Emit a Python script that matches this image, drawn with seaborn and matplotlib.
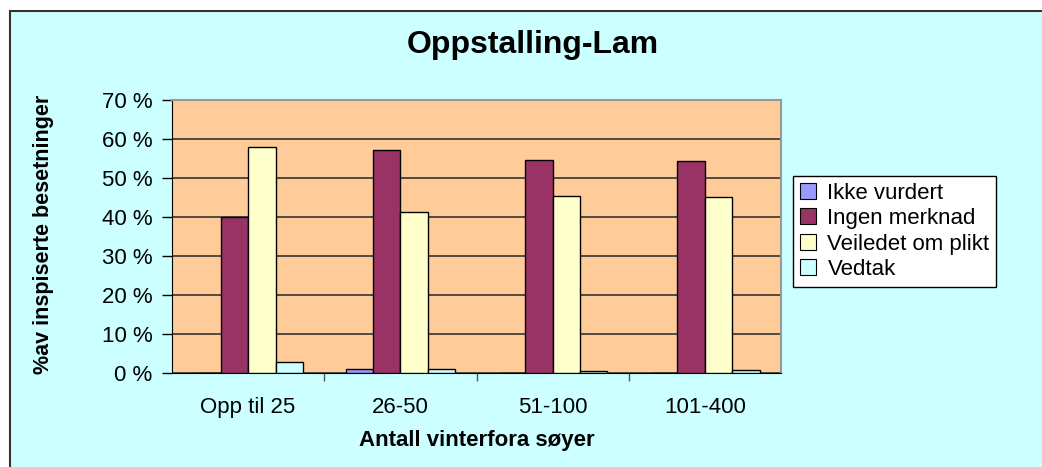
import matplotlib
matplotlib.use("Agg")
import matplotlib.pyplot as plt
import pandas as pd
import seaborn as sb
from matplotlib.patches import Rectangle

# data
groups = ["Opp til 25", "26-50", "51-100", "101-400"]
series = ["Ikke vurdert", "Ingen merknad", "Veiledet om plikt", "Vedtak"]
ikke_vurdert = [0.0, 1.1, 0.0, 0.0]
ingen_merknad = [39.8, 57.0, 54.4, 54.2]
veiledet = [57.8, 41.2, 45.2, 45.0]
vedtak = [2.7, 0.9, 0.4, 0.85]
colors = ["#9999FF", "#993366", "#FFFFCC", "#CCFFFF"]

rows = []
for s, vals in zip(series, [ikke_vurdert, ingen_merknad, veiledet, vedtak]):
    for g, v in zip(groups, vals):
        rows.append({"group": g, "serie": s, "pct": v})
df = pd.DataFrame(rows)

plt.rcParams["font.family"] = ["Liberation Sans", "DejaVu Sans"]

W, H = 1042, 467
fig = plt.figure(figsize=(W / 100, H / 100), dpi=100)
fig.patch.set_facecolor("white")
# cyan chart area, dark border only on top/left (rest is cut off)
bg = Rectangle((10 / W, -0.1), 1.2, 1.1 - 11 / H, transform=fig.transFigure,
               facecolor="#CCFFFF", edgecolor="#333333", linewidth=1.5, zorder=-10)
fig.patches.append(bg)

L, R, T, B = 172, 781, 99.5, 373
ax = fig.add_axes([L / W, 1 - B / H, (R - L) / W, (B - T) / H])
ax.set_facecolor("#FFCC99")

sb.barplot(data=df, x="group", y="pct", hue="serie", order=groups, hue_order=series,
           palette=colors, width=0.72, edgecolor="black", linewidth=1.0,
           saturation=1, ax=ax, zorder=3)

ax.set_ylim(0, 70)
ax.set_xlim(-0.5, 3.5)
ax.set_yticks(range(0, 71, 10))
ax.set_yticklabels([f"{v} %" for v in range(0, 71, 10)], fontsize=16)
ax.yaxis.grid(True, color="#333333", linewidth=1.2, zorder=0)
ax.set_axisbelow(True)
ax.tick_params(axis="y", length=7, width=1, direction="out", pad=7)
ax.tick_params(axis="x", which="major", length=0, labelsize=16, pad=17)
ax.set_xticks([0.5, 1.5, 2.5], minor=True)
ax.tick_params(axis="x", which="minor", length=6, width=1, color="#555555")
for side in ["top", "right"]:
    ax.spines[side].set_color("#999999")
    ax.spines[side].set_linewidth(1.5)
ax.spines["left"].set_color("black")
ax.spines["bottom"].set_color("black")

ax.set_xlabel("Antall vinterfora søyer", fontsize=16, fontweight="bold")
ax.xaxis.set_label_coords((477 - L) / (R - L), (B - 430) / (B - T))
ax.xaxis.label.set_va("top")
ax.set_ylabel("%av inspiserte besetninger", fontsize=15.5, fontweight="bold")
ax.yaxis.set_label_coords((54 - L) / (R - L), (B - 234) / (B - T))

fig.text(533 / W, 1 - 53 / H, "Oppstalling-Lam", ha="center", va="baseline",
         fontsize=23, fontweight="bold")

leg = ax.legend(loc="upper left", bbox_to_anchor=(793 / W, 1 - 176 / H),
                bbox_transform=fig.transFigure, fontsize=16, frameon=True, fancybox=False,
                edgecolor="black", framealpha=1, borderpad=0.3, labelspacing=0.2,
                handlelength=0.75, handleheight=0.75, handletextpad=0.5, borderaxespad=0)
leg.get_frame().set_linewidth(1.0)
for h in leg.legend_handles:
    h.set_edgecolor("black")
    h.set_linewidth(0.8)

fig.savefig("out.png", dpi=100)
